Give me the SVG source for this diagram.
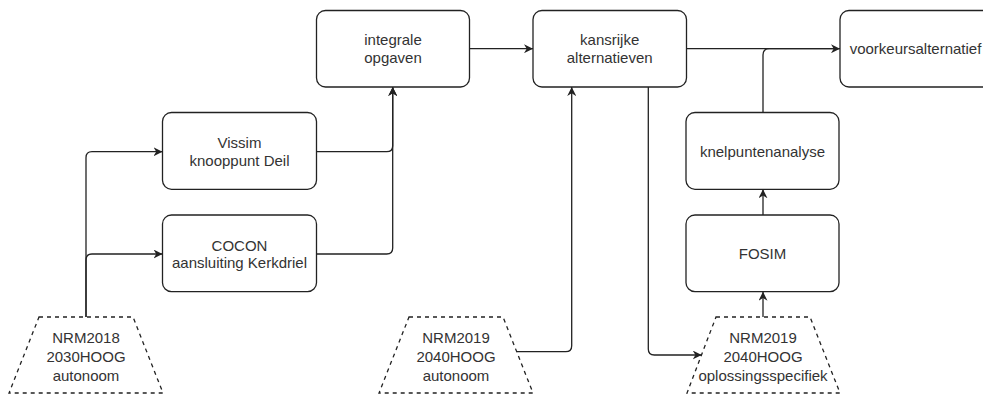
<svg xmlns="http://www.w3.org/2000/svg" width="983" height="394" viewBox="0 0 983 394">
<style>
.box{fill:#fff;stroke:#222;stroke-width:1.3}
.trap{fill:#fff;stroke:#222;stroke-width:1.3;stroke-dasharray:4 4}
.edge{fill:none;stroke:#222;stroke-width:1.3}
text{font-family:"Liberation Sans",Arial,sans-serif;font-size:15px;fill:#333;text-anchor:middle}
</style>
<defs>
<marker id="arr" viewBox="0 0 10 10" refX="10" refY="5" markerWidth="9" markerHeight="9" markerUnits="userSpaceOnUse" orient="auto">
<path d="M0,0 L10,5 L0,10 L3,5 z" fill="#222"/>
</marker>
</defs>
<rect width="983" height="394" fill="#fff"/>
<g id="connectors">
<path class="edge" d="M86 317 V157.7 Q86 151.7 92 151.7 H162.5" marker-end="url(#arr)"/>
<path class="edge" d="M86 317 V260 Q86 254 92 254 H162.5" marker-end="url(#arr)"/>
<path class="edge" d="M316.5 151.7 H386.7 Q392.7 151.7 392.7 145.7 V87" marker-end="url(#arr)"/>
<path class="edge" d="M316.5 254 H386.7 Q392.7 254 392.7 248 V87" marker-end="url(#arr)"/>
<path class="edge" d="M469.5 48.7 H533" marker-end="url(#arr)"/>
<path class="edge" d="M516.7 351.7 H565.7 Q571.7 351.7 571.7 345.7 V87" marker-end="url(#arr)"/>
<path class="edge" d="M648.3 87 V349 Q648.3 355 654.3 355 H701.7" marker-end="url(#arr)"/>
<path class="edge" d="M686.5 48.7 H840" marker-end="url(#arr)"/>
<path class="edge" d="M763 112.5 V55 Q763 48.7 769.3 48.7 H834"/>
<path class="edge" d="M763 215 V189.3" marker-end="url(#arr)"/>
<path class="edge" d="M763 317 V291.7" marker-end="url(#arr)"/>
</g>
<g id="integrale">
<rect class="box" x="316.5" y="10.5" width="153" height="76.5" rx="9"/>
<text x="393" y="45">integrale</text>
<text x="393" y="63">opgaven</text>
</g>
<g id="kansrijke">
<rect class="box" x="533" y="10.5" width="153.5" height="76.5" rx="9"/>
<text x="609.7" y="45">kansrijke</text>
<text x="609.7" y="63">alternatieven</text>
</g>
<g id="voorkeur">
<rect class="box" x="840" y="10.5" width="153" height="76.5" rx="9"/>
<text x="915.5" y="54">voorkeursalternatief</text>
</g>
<g id="vissim">
<rect class="box" x="162.5" y="112.5" width="154" height="76.8" rx="9"/>
<text x="239.5" y="148">Vissim</text>
<text x="239.5" y="166">knooppunt Deil</text>
</g>
<g id="cocon">
<rect class="box" x="162.5" y="215" width="154" height="76.7" rx="9"/>
<text x="239.5" y="250.5">COCON</text>
<text x="239.5" y="268">aansluiting Kerkdriel</text>
</g>
<g id="knelpunt">
<rect class="box" x="686" y="112.5" width="153" height="76.8" rx="9"/>
<text x="762.5" y="156.5">knelpuntenanalyse</text>
</g>
<g id="fosim">
<rect class="box" x="686" y="215" width="153" height="76.7" rx="9"/>
<text x="762.5" y="259">FOSIM</text>
</g>
<g id="nrm2018">
<path class="trap" d="M39 317 H133 L163 393 H9 Z"/>
<text x="86" y="343">NRM2018</text>
<text x="86" y="362">2030HOOG</text>
<text x="86" y="381">autonoom</text>
</g>
<g id="nrm2019a">
<path class="trap" d="M409 317 H503 L533 393 H379 Z"/>
<text x="456" y="343">NRM2019</text>
<text x="456" y="362">2040HOOG</text>
<text x="456" y="381">autonoom</text>
</g>
<g id="nrm2019b">
<path class="trap" d="M716 317 H810 L840 393 H687 Z"/>
<text x="763" y="343">NRM2019</text>
<text x="763" y="362">2040HOOG</text>
<text x="763" y="381">oplossingsspecifiek</text>
</g>
</svg>
